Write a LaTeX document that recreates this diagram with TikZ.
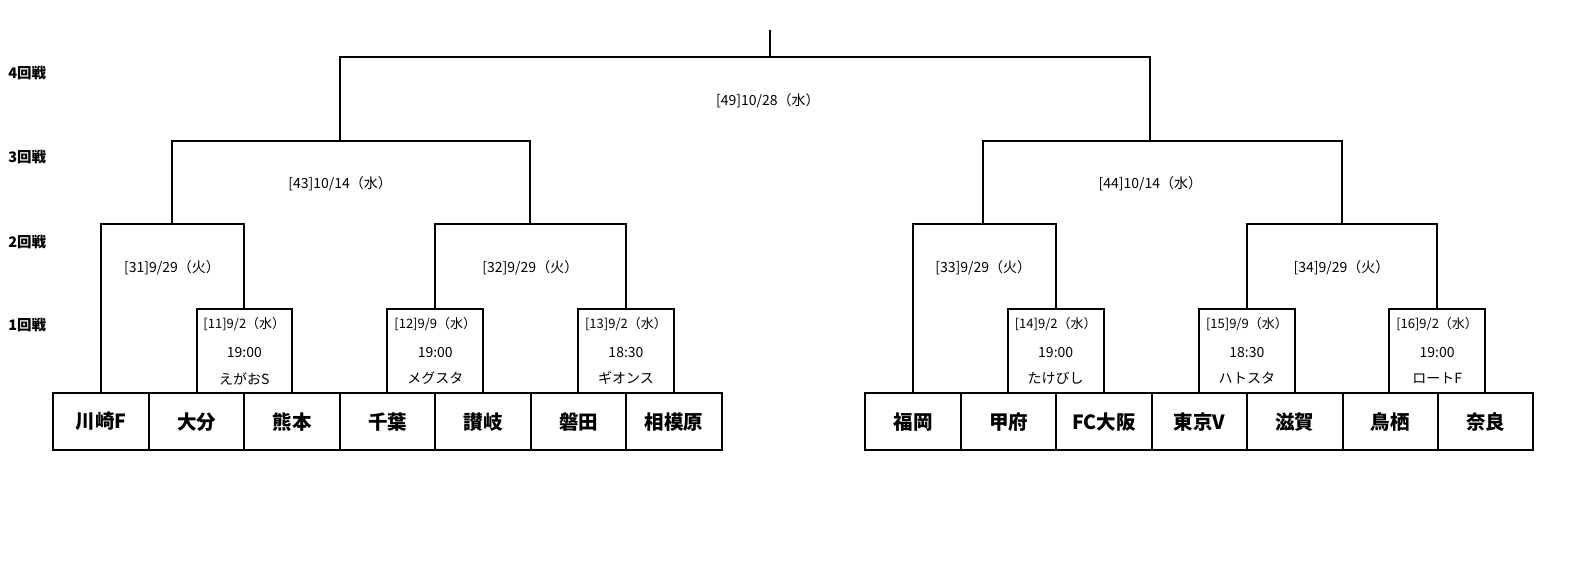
\documentclass[tikz,border=0pt]{standalone}
\usepackage{fontspec}
\setmainfont{Noto Sans CJK JP}
\begin{document}
\begin{tikzpicture}[x=1.0064pt,y=-1.0064pt,
  br/.style={line width=2pt},
  team/.style={draw,line width=2pt,minimum width=95.4pt,minimum height=56.4pt,inner sep=0pt,font=\fontsize{19.5}{19.5}\selectfont\bfseries},
  mbox/.style={draw,line width=2pt,minimum width=95.6pt,minimum height=84.5pt,inner sep=0pt},
  mdate/.style={inner sep=0pt,font=\fontsize{13}{13}\selectfont},
  minfo/.style={inner sep=0pt,font=\fontsize{14}{14}\selectfont},
  lbl/.style={inner sep=0pt,font=\fontsize{14}{14}\selectfont},
  rnd/.style={inner sep=0pt,anchor=west,font=\fontsize{14.5}{14.5}\selectfont\bfseries}]
\useasboundingbox (0,0) rectangle (1568,577);
% round labels
\node[rnd] (r4) at (8,73) {4回戦};
\node[rnd] (r3) at (8,156) {3回戦};
\node[rnd] (r2) at (8,240) {2回戦};
\node[rnd] (r1) at (8,323) {1回戦};
% teams
\node[team] (t1) at (100.5,419) {川崎F};
\node[team] (t2) at (195.4,419) {大分};
\node[team] (t3) at (290.3,419) {熊本};
\node[team] (t4) at (385.2,419) {千葉};
\node[team] (t5) at (480,419) {讃岐};
\node[team] (t6) at (574.9,419) {磐田};
\node[team] (t7) at (669.7,419) {相模原};
\node[team] (t8) at (907.4,419) {福岡};
\node[team] (t9) at (1002.2,419) {甲府};
\node[team] (t10) at (1097,419) {FC大阪};
\node[team] (t11) at (1191.8,419) {東京V};
\node[team] (t12) at (1286.6,419) {滋賀};
\node[team] (t13) at (1381.4,419) {鳥栖};
\node[team] (t14) at (1476.2,419) {奈良};
% first round boxes
\foreach \n/\x/\d/\t/\v in {11/242.8/{[11]9/2（水）}/19:00/えがおS,
                            12/432.5/{[12]9/9（水）}/19:00/メグスタ,
                            13/622/{[13]9/2（水）}/18:30/ギオンス,
                            14/1049/{[14]9/2（水）}/19:00/たけびし,
                            15/1239/{[15]9/9（水）}/18:30/ハトスタ,
                            16/1428/{[16]9/2（水）}/19:00/ロートF}{
  \node[mbox] (m\n) at (\x,349) {};
  \node[mdate] (m\n d) at (\x,322) {\d};
  \node[minfo] (m\n t) at (\x,350) {\t};
  \node[minfo] (m\n v) at (\x,376) {\v};
}
% junctions
\coordinate (j31) at (171,223);
\coordinate (j32) at (527,223);
\coordinate (j33) at (977,223);
\coordinate (j34) at (1333,223);
\coordinate (j43) at (338,140);
\coordinate (j44) at (1143,140);
\coordinate (j49) at (765,57);
\coordinate (top) at (765,30);
% second round
\draw[br] (t1.north) |- (m11.north |- j31) -- (m11.north);
\draw[br] (m12.north) |- (m13.north |- j32) -- (m13.north);
\draw[br] (t8.north) |- (m14.north |- j33) -- (m14.north);
\draw[br] (m15.north) |- (m16.north |- j34) -- (m16.north);
% third round
\draw[br] (j31) |- (j32 |- j43) -- (j32);
\draw[br] (j33) |- (j34 |- j44) -- (j34);
% fourth round
\draw[br] (j43) |- (j44 |- j49) -- (j44);
\draw[br] (j49) -- (top);
% labels
\node[lbl] (l49) at (763,100) {[49]10/28（水）};
\node[lbl] (l43) at (338,183) {[43]10/14（水）};
\node[lbl] (l44) at (1143,183) {[44]10/14（水）};
\node[lbl] (l31) at (171,266) {[31]9/29（火）};
\node[lbl] (l32) at (527,266) {[32]9/29（火）};
\node[lbl] (l33) at (977,266) {[33]9/29（火）};
\node[lbl] (l34) at (1333,266) {[34]9/29（火）};
\end{tikzpicture}
\end{document}
